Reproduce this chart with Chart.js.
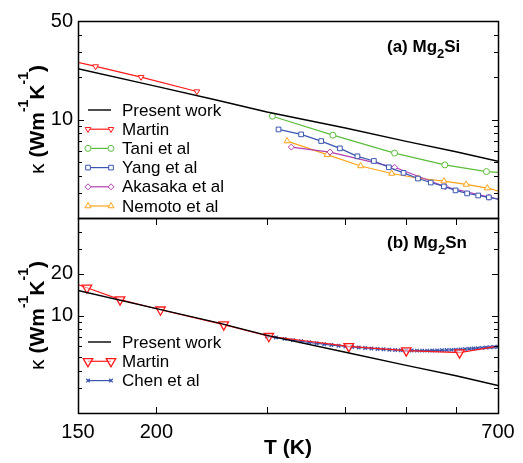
<!DOCTYPE html>
<html>
<head>
<meta charset="utf-8">
<script src="https://cdn.jsdelivr.net/npm/chart.js@4.4.0/dist/chart.umd.min.js"></script>
<style>
  html, body { margin: 0; padding: 0; background: #fff; }
  #wrap { position: relative; width: 523px; height: 463px; }
  #wrap canvas { position: absolute; left: 0; top: 0; }
</style>
</head>
<body>
<div id="wrap">
  <canvas id="topChart" width="523" height="463"></canvas>
  <canvas id="botChart" width="523" height="463"></canvas>
</div>
<script>
// ticks
const xLabelTicks = [150, 200, 700];
const xMarkTicks = [200, 300, 400, 500, 600];
const yMinorTicks = [2, 3, 4, 5, 6, 7, 8, 9, 20, 30, 40];
const yTopLabels = [10, 50];
const yBotLabels = [10, 20];

// (a) Mg2Si
const siPresentT = [150, 200, 250, 300, 400, 500, 600, 700];
const siPresentK = [22.9, 17.2, 13.7, 11.3, 8.7, 7.0, 5.9, 5.05];
const siMartinT = [130, 160, 189, 232];
const siMartinK = [29.3, 23.8, 20.0, 15.8];
const siTaniT = [306, 382, 479, 576, 671, 740];
const siTaniK = [10.55, 7.74, 5.78, 4.76, 4.27, 4.15];
const siYangT = [313, 340, 366, 392, 418, 444, 469, 495, 522, 547, 574, 599, 625, 651, 677, 720];
const siYangK = [8.50, 7.84, 7.03, 6.24, 5.48, 5.08, 4.58, 4.18, 3.81, 3.57, 3.35, 3.14, 2.99, 2.89, 2.80, 2.66];
const siAkasakaT = [328, 378, 479, 577, 677, 720];
const siAkasakaK = [6.37, 5.87, 4.58, 3.33, 2.81, 2.66];
const siNemotoT = [323, 374, 423, 474, 523, 574, 623, 673, 720];
const siNemotoK = [7.03, 5.63, 4.68, 4.14, 3.83, 3.65, 3.46, 3.26, 3.02];

// (b) Mg2Sn
const snPresentT = [150, 200, 250, 300, 400, 500, 600, 700];
const snPresentK = [15.1, 11.2, 8.9, 7.2, 5.45, 4.39, 3.7, 3.15];
const snMartinT = [130, 155, 175, 203, 256, 302, 405, 500, 608, 750];
const snMartinK = [20.9, 15.8, 13.0, 11.0, 8.6, 7.1, 6.0, 5.6, 5.42, 6.35];
const snChenT = [300, 310, 320, 330, 340, 350, 360, 370, 380, 390, 400, 410, 420, 430, 440, 450, 460, 470, 480, 490, 500,
                 510, 520, 530, 540, 550, 560, 570, 580, 590, 600, 610, 620, 630, 640, 650, 660, 670, 680, 690, 700];
const snChenK = [7.10, 6.95, 6.80, 6.66, 6.53, 6.42, 6.32, 6.23, 6.14, 6.07, 6.00, 5.95, 5.90, 5.85, 5.80, 5.76, 5.72, 5.69, 5.66, 5.64, 5.62,
                 5.61, 5.60, 5.60, 5.60, 5.61, 5.62, 5.63, 5.65, 5.67, 5.69, 5.71, 5.74, 5.77, 5.80, 5.83, 5.86, 5.89, 5.92, 5.95, 5.98];

const FONT = "'Liberation Sans', Arial, sans-serif";
const pts = (xs, ys) => xs.map((x, i) => ({ x: x, y: ys[i] }));

function drawRich(ctx, parts, x, y, rotate, center) {
    ctx.save();
    ctx.translate(x, y);
    if (rotate) ctx.rotate(-Math.PI / 2);
    let w = 0;
    parts.forEach(p => { ctx.font = p.font; p.w = ctx.measureText(p.t).width; w += p.w; });
    let cx = center ? -w / 2 : 0;
    ctx.fillStyle = '#000';
    ctx.textAlign = 'left';
    ctx.textBaseline = 'alphabetic';
    parts.forEach(p => { ctx.font = p.font; ctx.fillText(p.t, cx, p.dy || 0); cx += p.w; });
    ctx.restore();
}

function drawMarker(ctx, ds, x, y) {
    if (!ds.pointRadius) return;
    ctx.save();
    ctx.strokeStyle = ds.borderColor;
    ctx.fillStyle = ds.pointBackgroundColor || '#fff';
    ctx.lineWidth = ds.pointBorderWidth || 1;
    Chart.helpers.drawPoint(ctx, {
        pointStyle: ds.pointStyle, rotation: ds.pointRotation || 0,
        radius: ds.pointRadius, borderWidth: ds.pointBorderWidth || 1
    }, x, y);
    ctx.restore();
}

const decor = {
    id: 'decor',
    afterDraw(chart, args, o) {
        const { ctx, chartArea: a, scales: { x, y } } = chart;
        ctx.save();
        // frame
        ctx.strokeStyle = '#000';
        ctx.lineWidth = 1.5;
        ctx.strokeRect(Math.round(a.left) + 0.5, Math.round(a.top) + 0.5, Math.round(a.right - a.left), Math.round(a.bottom - a.top));
        // inward ticks
        ctx.lineWidth = 1;
        ctx.beginPath();
        o.majors.concat(yMinorTicks).forEach(v => {
            const py = Math.round(y.getPixelForValue(v)) + 0.5;
            const len = o.majors.includes(v) ? 6 : 4;
            ctx.moveTo(a.left, py); ctx.lineTo(a.left + len, py);
            ctx.moveTo(a.right, py); ctx.lineTo(a.right - len, py);
        });
        if (o.xTicks) {
            xMarkTicks.forEach(v => {
                const px = Math.round(x.getPixelForValue(v)) + 0.5;
                ctx.moveTo(px, a.bottom); ctx.lineTo(px, a.bottom - 6);
                ctx.moveTo(px, a.top); ctx.lineTo(px, a.top + 7);
            });
        }
        ctx.stroke();

        // y title
        const midY = (a.top + a.bottom) / 2;
        drawRich(ctx, [
            { t: 'κ ', font: '21px ' + FONT },
            { t: '(Wm', font: 'bold 21px ' + FONT },
            { t: '-1', font: 'bold 14px ' + FONT, dy: -16 },
            { t: 'K', font: 'bold 21px ' + FONT },
            { t: '-1', font: 'bold 14px ' + FONT, dy: -16 },
            { t: ')', font: 'bold 21px ' + FONT }
        ], 44, midY, true, true);

        // panel label
        drawRich(ctx, [
            { t: o.label[0], font: 'bold 17px ' + FONT },
            { t: '2', font: 'bold 13px ' + FONT, dy: 6 },
            { t: o.label[1], font: 'bold 17px ' + FONT }
        ], 387, a.top + o.labelDy, false, false);

        // legend
        ctx.font = '17px ' + FONT;
        ctx.textBaseline = 'middle';
        ctx.textAlign = 'left';
        chart.data.datasets.forEach((ds, i) => {
            const ry = o.legendY + i * o.legendStep;
            ctx.strokeStyle = ds.borderColor;
            ctx.lineWidth = ds.borderWidth;
            ctx.beginPath();
            ctx.moveTo(88, ry); ctx.lineTo(111, ry);
            ctx.stroke();
            drawMarker(ctx, ds, 88, ry);
            drawMarker(ctx, ds, 111, ry);
            ctx.fillStyle = '#000';
            ctx.fillText(ds.label, 122, ry + 1);
        });
        ctx.restore();
    }
};

function xScale(show) {
    return {
        type: 'logarithmic', min: 150, max: 700, display: show,
        grid: { display: false, drawTicks: false },
        border: { display: false },
        afterBuildTicks: s => { s.ticks = xLabelTicks.map(v => ({ value: v })); },
        afterFit: s => { s.height = show ? 50 : 0; },
        ticks: {
            font: { family: FONT, size: 20 }, color: '#000', padding: 7,
            autoSkip: false, maxRotation: 0,
            callback: v => xLabelTicks.includes(v) ? String(v) : ''
        },
        title: {
            display: true, text: 'T (K)', color: '#000',
            font: { family: FONT, size: 21, weight: 'bold' },
            padding: { top: 0, bottom: 2 }
        }
    };
}

function yScale(labels) {
    return {
        type: 'logarithmic', min: 2, max: 50,
        grid: { display: false, drawTicks: false },
        border: { display: false },
        afterBuildTicks: s => { s.ticks = labels.map(v => ({ value: v })); },
        afterFit: s => { s.width = 78; },
        ticks: {
            font: { family: FONT, size: 20 }, color: '#000', padding: 5,
            autoSkip: false,
            callback: v => labels.includes(v) ? String(v) : ''
        }
    };
}

function line(label, xs, ys, color, style, extra) {
    return Object.assign({
        label: label, data: pts(xs, ys), borderColor: color, borderWidth: 1.2,
        pointStyle: style, pointRadius: style ? 3 : 0, pointBorderWidth: 1,
        pointBackgroundColor: '#fff', pointBorderColor: color, tension: 0, fill: false
    }, extra || {});
}

new Chart(document.getElementById('topChart'), {
    type: 'line',
    data: {
        datasets: [
            line('Present work', siPresentT, siPresentK, '#000', false, { borderWidth: 1.4 }),
            line('Martin', siMartinT, siMartinK, '#ff1a1a', 'triangle', { pointRotation: 180, pointRadius: 3.3 }),
            line('Tani et al', siTaniT, siTaniK, '#5cbd3c', 'circle'),
            line('Yang et al', siYangT, siYangK, '#3a56b0', 'rect', { pointRadius: 3.3 }),
            line('Akasaka et al', siAkasakaT, siAkasakaK, '#b040b0', 'rectRot'),
            line('Nemoto et al', siNemotoT, siNemotoK, '#ffa31a', 'triangle', { pointRadius: 3.5 })
        ]
    },
    options: {
        responsive: false, animation: false, devicePixelRatio: 1, events: [],
        layout: { padding: { top: 21, right: 25, bottom: 245, left: 0 } },
        scales: { x: xScale(false), y: yScale(yTopLabels) },
        plugins: {
            legend: { display: false }, tooltip: { enabled: false },
            decor: { majors: [10], xTicks: false, label: ['(a) Mg', 'Si'], labelDy: 31,
                     legendY: 110, legendStep: 19.2 }
        }
    },
    plugins: [decor]
});

new Chart(document.getElementById('botChart'), {
    type: 'line',
    data: {
        datasets: [
            line('Present work', snPresentT, snPresentK, '#000', false, { borderWidth: 1.4 }),
            line('Martin', snMartinT, snMartinK, '#ff1a1a', 'triangle',
                 { pointRotation: 180, pointRadius: 5.5, pointBorderWidth: 1.3, pointBackgroundColor: 'rgba(255,255,255,0.5)' }),
            line('Chen et al', snChenT, snChenK, '#3a56b0', 'crossRot', { pointRadius: 2.5, pointBorderWidth: 1.3 })
        ]
    },
    options: {
        responsive: false, animation: false, devicePixelRatio: 1, events: [],
        layout: { padding: { top: 218, right: 25, bottom: 0, left: 0 } },
        scales: { x: xScale(true), y: yScale(yBotLabels) },
        plugins: {
            legend: { display: false }, tooltip: { enabled: false },
            decor: { majors: [10, 20], xTicks: true, label: ['(b) Mg', 'Sn'], labelDy: 29.5,
                     legendY: 342, legendStep: 19.3 }
        }
    },
    plugins: [decor]
});
</script>
</body>
</html>
